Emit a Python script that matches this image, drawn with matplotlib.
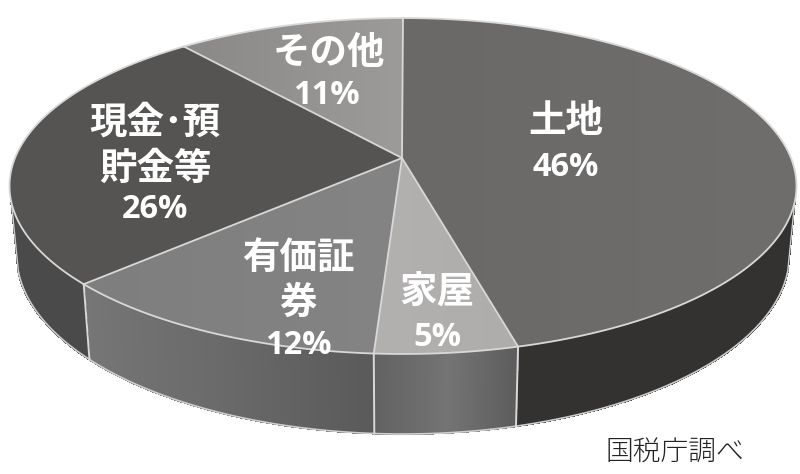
import numpy as np
import matplotlib
matplotlib.use("Agg")
import matplotlib.pyplot as plt
from matplotlib.patches import Polygon

plt.rcParams['font.family'] = ['Noto Sans CJK JP', 'DejaVu Sans']

categories = ['土地', '家屋', '有価証券', '現金・預貯金等', 'その他']
values = [46, 5, 12, 26, 11]
top_left = ['#6a6968', '#b2b1b0', '#7e7e7e', '#555453', '#8a8988']
top_right = ['#6f6e6d', '#aeadac', '#848484', '#565554', '#9c9b9a']
side_start = ['#333231', '#5c5c5c', '#5a5a5a', '#4b4a4a', '#555555']
side_mid = ['#333231', '#747474', '#6b6b6b', '#4b4a4a', '#555555']
side_end = ['#333231', '#626262', '#767676', '#4b4a4a', '#555555']
label_lines = [['土地', '46%'], ['家屋', '5%'], ['有価証', '券', '12%'],
               ['現金･預', '貯金等', '26%'], ['その他', '11%']]
label_xy = [[(566, 120), (566, 168)], [(437, 292), (437, 337)],
            [(298, 257), (298, 302), (298, 345)],
            [(155, 122), (155, 168), (155, 210)], [(329, 52), (326, 95)]]
source = '国税庁調べ'

CX, CY, A, B, K, D = 403, 158, 388, 163.3, 0.1667, 66.7
EDGE = '#d8d8d8'
WALL_LIMIT = -0.25


def top(theta):
    u, v = np.sin(theta), np.cos(theta)
    d = 1 + K * v
    return CX + A * u / d, CY - B * v / d


def bottom(theta):
    u, v = np.sin(theta), np.cos(theta)
    d = 1 + K * v
    return CX + 0.982 * A * u / d, CY - B * v / d + D / d


fig = plt.figure(figsize=(8, 4.74), dpi=100)
ax = fig.add_axes([0, 0, 1, 1])
ax.set_xlim(0, 800)
ax.set_ylim(474, 0)
ax.axis('off')

fracs = np.array(values, dtype=float) / sum(values)
edges = np.concatenate([[0], np.cumsum(fracs)]) * 2 * np.pi


def grey(c):
    return np.array(matplotlib.colors.to_rgb(c))


# side wall (front part only)
for i in range(len(values)):
    th = np.linspace(edges[i], edges[i + 1], 121)
    for j in range(120):
        f = j / 119
        t = th[j:j + 2]
        if np.cos(t).max() > WALL_LIMIT:
            continue
        c0, c1, c2 = grey(side_start[i]), grey(side_mid[i]), grey(side_end[i])
        col = c0 + (c1 - c0) * f * 2 if f < .5 else c1 + (c2 - c1) * (f - .5) * 2
        xt, yt = top(t)
        xb, yb = bottom(t)
        ax.fill([xt[0], xt[1], xb[1], xb[0]], [yt[0], yt[1], yb[1], yb[0]],
                color=col, lw=0.8, antialiased=False, zorder=2)
    thf = th[np.cos(th) < WALL_LIMIT]
    if thf.size > 1:
        xb, yb = bottom(thf)
        ax.plot(xb, yb, color='#cfcfcf', lw=1.2, zorder=2.2)
        # silhouette ends of the wall
        for t0 in (thf[0], thf[-1]):
            if abs(np.cos(t0) - WALL_LIMIT) < 0.08:
                xt, yt = top(t0)
                xb, yb = bottom(t0)
                ax.plot([xt, xb], [yt, yb], color='#cfcfcf', lw=1.0, zorder=2.2)
    if np.cos(edges[i]) < 0:
        xt, yt = top(edges[i])
        xb, yb = bottom(edges[i])
        ax.plot([xt, xb], [yt, yb], color=EDGE, lw=1.4, zorder=2.5)

# top face
for i in range(len(values)):
    th = np.linspace(edges[i], edges[i + 1], 120)
    xa, ya = top(th)
    xs = np.concatenate([[CX - 1], xa])
    ys = np.concatenate([[CY], ya])
    poly = Polygon(np.column_stack([xs, ys]), closed=True, fc='none', ec='none', zorder=3)
    ax.add_patch(poly)
    cl, cr = grey(top_left[i]), grey(top_right[i])
    grad = np.linspace(0, 1, 64)[None, :, None] * (cr - cl)[None, None, :] + cl[None, None, :]
    im = ax.imshow(grad, extent=[xs.min(), xs.max(), ys.max(), ys.min()],
                   aspect='auto', zorder=3, interpolation='bilinear')
    im.set_clip_path(poly)
ax.set_xlim(0, 800)
ax.set_ylim(474, 0)

for i in range(len(values)):
    th = np.linspace(edges[i], edges[i + 1], 120)
    xa, ya = top(th)
    ax.plot(xa, ya, color=EDGE, lw=1.3, zorder=4)
    ax.plot([CX - 1, xa[0]], [CY, ya[0]], color=EDGE, lw=1.3, zorder=4)

# labels
for lines, pos in zip(label_lines, label_xy):
    for s, (x, y) in zip(lines, pos):
        pct = s.endswith('%')
        ax.text(x, y, s, color='white', ha='center', va='center', zorder=5,
                fontweight='bold', fontsize=23.5 if pct else 27,
                family=['Open Sans', 'DejaVu Sans'] if pct else ['Noto Sans CJK JP', 'DejaVu Sans'])

ax.text(675, 453, source, color='#222222', ha='center', va='center',
        fontsize=20, fontweight='light', zorder=5)

fig.savefig('out.png', dpi=100, facecolor='white')
